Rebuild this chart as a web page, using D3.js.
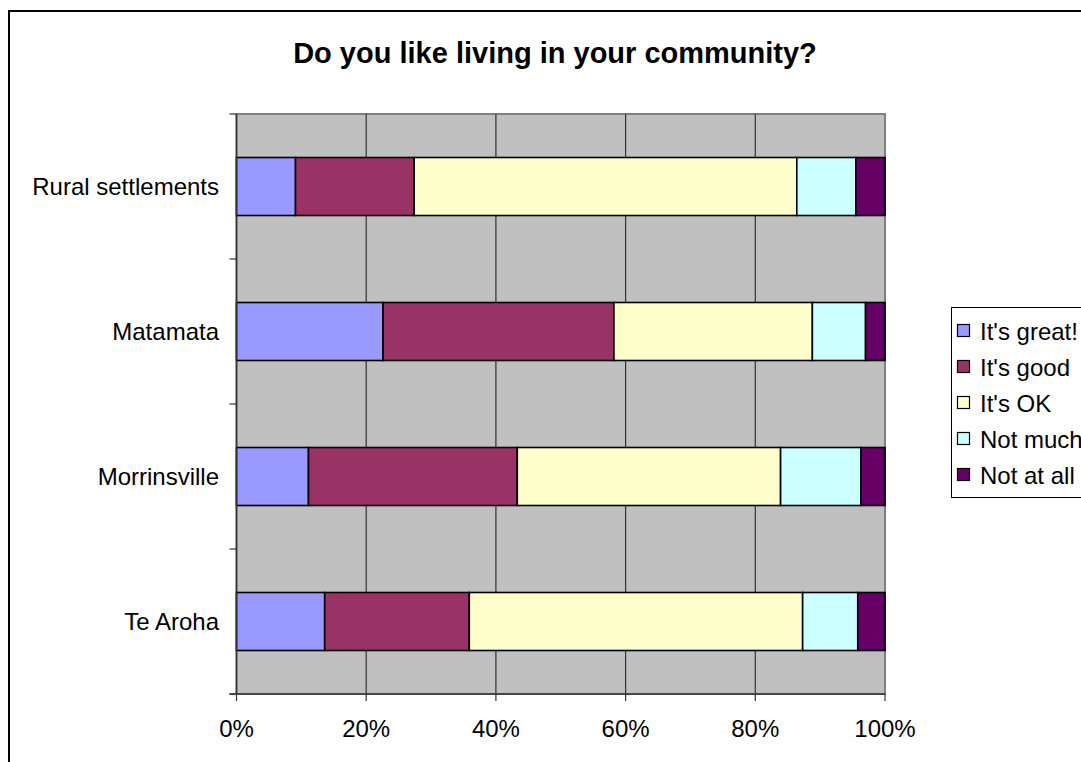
<!DOCTYPE html>
<html><head><meta charset="utf-8">
<script src="https://cdn.jsdelivr.net/npm/d3@7"></script>
<style>body{margin:0;background:#fff;} svg{display:block;font-family:"Liberation Sans",Arial,sans-serif;}</style>
</head><body>
<svg id="chart" width="1081" height="762"></svg>
<script>
const categories = ["Rural settlements", "Matamata", "Morrinsville", "Te Aroha"];
const seriesNames = ["It's great!", "It's good", "It's OK", "Not much", "Not at all"];
const seriesColors = ["#9999FF", "#993366", "#FFFFCC", "#CCFFFF", "#660066"];
const greatVals = [9.1, 22.6, 11.1, 13.6];
const goodVals = [18.3, 35.6, 32.2, 22.3];
const okVals = [59.0, 30.6, 40.6, 51.4];
const notMuchVals = [9.1, 8.2, 12.4, 8.5];
const notAtAllVals = [4.5, 3.0, 3.7, 4.2];
const xTicks = [0, 20, 40, 60, 80, 100];
const xTickLabels = ["0%", "20%", "40%", "60%", "80%", "100%"];

const seriesVals = [greatVals, goodVals, okVals, notMuchVals, notAtAllVals];
const rows = categories.map((c, i) => {
  const r = {cat: c};
  seriesNames.forEach((s, j) => r[s] = seriesVals[j][i]);
  return r;
});
const stack = d3.stack().keys(seriesNames).offset(d3.stackOffsetExpand)(rows);

const svg = d3.select("#chart");
// outer chart border
svg.append("rect").attr("x", 9).attr("y", 11).attr("width", 1100).attr("height", 800)
  .attr("fill", "#fff").attr("stroke", "#000").attr("stroke-width", 2);

const L = 236.5, R = 885, T = 114, B = 694;
const x = d3.scaleLinear().domain([0, 1]).range([L, R]);
const y = d3.scaleBand().domain(categories).range([T, B]).paddingInner(0.6).paddingOuter(0.3);
const yOuter = d3.scaleBand().domain(categories).range([T, B]);

// plot background
svg.append("rect").attr("x", L).attr("y", T).attr("width", R - L).attr("height", B - T)
  .attr("fill", "#C0C0C0").attr("stroke", "#808080").attr("stroke-width", 2);

// gridlines
svg.append("g").selectAll("line").data(xTicks.slice(1, -1)).join("line")
  .attr("x1", d => x(d / 100)).attr("x2", d => x(d / 100))
  .attr("y1", T).attr("y2", B).attr("stroke", "#333").attr("stroke-width", 1.2);

// bars
svg.append("g").selectAll("g").data(stack).join("g")
  .attr("fill", (d, i) => seriesColors[i])
  .selectAll("rect").data(d => d).join("rect")
  .attr("x", d => x(d[0])).attr("width", d => x(d[1]) - x(d[0]))
  .attr("y", d => y(d.data.cat)).attr("height", y.bandwidth())
  .attr("stroke", "#000").attr("stroke-width", 1.6);

// y axis line & ticks
svg.append("line").attr("x1", L).attr("x2", L).attr("y1", T).attr("y2", B)
  .attr("stroke", "#333").attr("stroke-width", 1.5);
const yTickPos = categories.map(c => yOuter(c)).concat([B]);
svg.append("g").selectAll("line").data(yTickPos).join("line")
  .attr("x1", L - 7).attr("x2", L).attr("y1", d => d).attr("y2", d => d)
  .attr("stroke", "#333").attr("stroke-width", 1.2);
svg.append("g").selectAll("text").data(categories).join("text")
  .attr("x", 219).attr("y", c => y(c) + y.bandwidth() / 2)
  .attr("text-anchor", "end").attr("dominant-baseline", "central")
  .attr("font-size", 24).attr("fill", "#000").text(c => c);

// x axis
svg.append("line").attr("x1", L - 7).attr("x2", R).attr("y1", B).attr("y2", B)
  .attr("stroke", "#333").attr("stroke-width", 1.5);
svg.append("g").selectAll("line").data(xTicks).join("line")
  .attr("x1", d => x(d / 100)).attr("x2", d => x(d / 100)).attr("y1", B).attr("y2", B + 7)
  .attr("stroke", "#333").attr("stroke-width", 1.2);
svg.append("g").selectAll("text").data(xTicks).join("text")
  .attr("x", d => x(d / 100)).attr("y", 737)
  .attr("text-anchor", "middle").attr("font-size", 24).attr("fill", "#000")
  .text((d, i) => xTickLabels[i]);

// title
svg.append("text").attr("x", 555).attr("y", 63).attr("text-anchor", "middle")
  .attr("font-size", 29).attr("font-weight", "bold").text("Do you like living in your community?");

// legend
const lg = svg.append("g");
lg.append("rect").attr("x", 951.5).attr("y", 307.5).attr("width", 200).attr("height", 190)
  .attr("fill", "#fff").attr("stroke", "#000").attr("stroke-width", 1);
const lgItems = lg.selectAll("g").data(seriesNames).join("g")
  .attr("transform", (d, i) => `translate(0, ${330 + i * 36})`);
lgItems.append("rect").attr("x", 957.5).attr("y", -5.5).attr("width", 12).attr("height", 12)
  .attr("fill", (d, i) => seriesColors[i]).attr("stroke", "#000").attr("stroke-width", 1.2);
lgItems.append("text").attr("x", 980).attr("y", 1).attr("dominant-baseline", "central")
  .attr("font-size", 24).text(d => d);
</script>
</body></html>
